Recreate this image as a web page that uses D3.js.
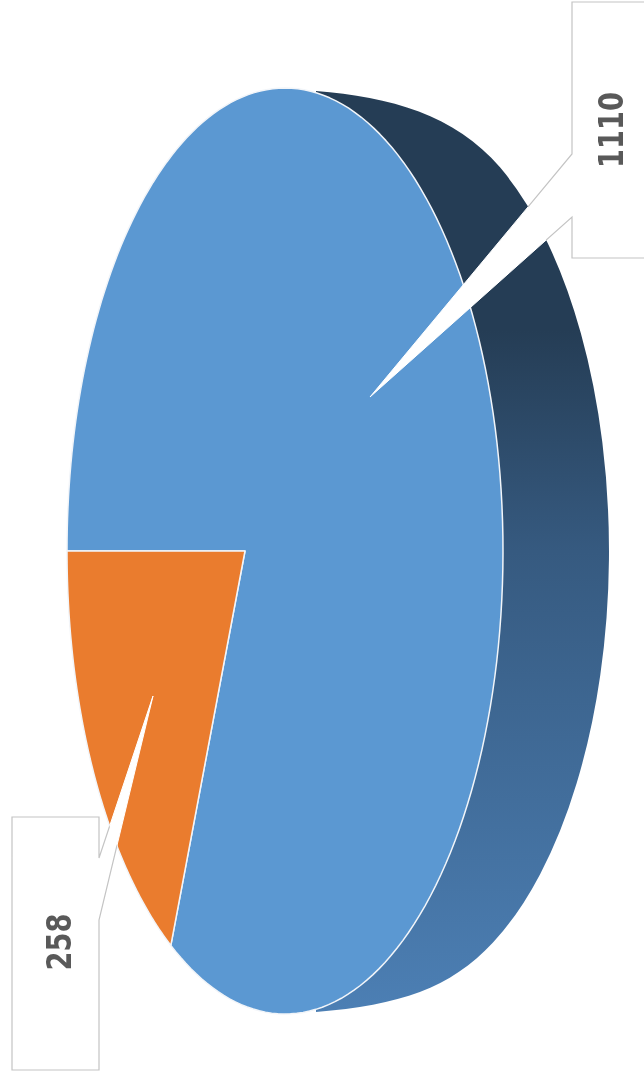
<!DOCTYPE html>
<html>
<head>
<meta charset="utf-8">
<script src="https://cdn.jsdelivr.net/npm/d3@7"></script>
<style>
html,body{margin:0;padding:0;background:#fff;overflow:hidden}
svg{display:block;filter:blur(0.45px)}
text{font-family:"DejaVu Sans",sans-serif;font-weight:bold;fill:#595959}
</style>
</head>
<body>
<svg id="c" width="644" height="1077"></svg>
<script>
const categories = ["A", "B"];
const values = [1110, 258];
const labels = ["1110", "258"];
const colors = ["#5b98d2", "#ea7c2e"];

const W = 644, H = 1077;
const svg = d3.select("#c");

// Pie face: a circle seen in perspective, so its apex sits left of the ellipse centre.
const face = {cx: 285, cy: 551, rx: 218, ry: 463, apexX: 245};
const a = (face.apexX - face.cx) / face.rx;
const xScale = d3.scaleLinear().domain([-1, 1]).range([face.cx - face.rx, face.cx + face.rx]);
const yScale = d3.scaleLinear().domain([-1, 1]).range([face.cy - face.ry, face.cy + face.ry]);
function project(theta, r) {
  // theta clockwise from 12 o'clock, as d3.pie gives it
  const u = r * Math.sin(theta), v = -r * Math.cos(theta);
  const d = 1 + a * u;
  return [xScale((u + a) / d), yScale(v * Math.sqrt(1 - a * a) / d)];
}

const pie = d3.pie().value(d => d).sort(null)
  .startAngle(1.5 * Math.PI).endAngle(3.5 * Math.PI);
const arcs = pie(values);

// Side wall of the extruded pie
const defs = svg.append("defs");
const grad = defs.append("linearGradient").attr("id", "side")
  .attr("gradientUnits", "userSpaceOnUse").attr("x1", 0).attr("x2", 0).attr("y1", 91).attr("y2", 1012);
[[0, "#253d55"], [0.26, "#253d55"], [0.5, "#365a80"], [1, "#4c7fb4"]]
  .forEach(([o, c]) => grad.append("stop").attr("offset", o).attr("stop-color", c));

const back = {cx: 391, cy: 551, rx: 218, ry: 443};
const ax = xv => back.cy - back.ry * Math.sqrt(1 - ((xv - back.cx) / back.rx) ** 2);
const bx = xv => back.cy + back.ry * Math.sqrt(1 - ((xv - back.cx) / back.rx) ** 2);
const sideD =
  `M316,91 C390,97 455,${ax(500) - 52.8} 500,${ax(500)} ` +
  `A${back.rx},${back.ry} 0 0 1 493,${bx(493)} ` +
  `C450,${bx(493) + 46.2} 400,1005 316,1012 Z`;
svg.append("path").attr("fill", "url(#side)").attr("d", sideD);

// Slices
const line = d3.line();
const faceOutline = line(d3.range(0, 360).map(k => project(k * Math.PI / 180, 1))) + "Z";
arcs.forEach((d, i) => {
  const steps = d3.range(0, 181).map(k => d.startAngle + (d.endAngle - d.startAngle) * k / 180);
  const pts = [project(0, 0)].concat(steps.map(t => project(t, 1)));
  svg.append("path")
    .attr("d", line(pts) + "Z")
    .attr("fill", colors[i])
    .attr("stroke", "#f2f5f9")
    .attr("stroke-width", 1.5)
    .attr("stroke-linejoin", "round");
});

// The callout outline only shows off the pie; over the pie the pointer is plain white.
const mask = defs.append("mask").attr("id", "offPie").attr("maskUnits", "userSpaceOnUse")
  .attr("x", 0).attr("y", 0).attr("width", W).attr("height", H);
mask.append("rect").attr("width", W).attr("height", H).attr("fill", "#fff");
mask.append("path").attr("d", sideD).attr("fill", "#000");
mask.append("path").attr("d", faceOutline).attr("fill", "#000");

// Data-label callouts
const callouts = [
  {pts: [[572,2],[660,2],[660,258],[572,258],[572,217],[370,397],[572,154]], lx: 611, ly: 130},
  {pts: [[12,817],[99,817],[99,858],[153,696],[99,920],[99,1070],[12,1070]], lx: 59, ly: 942}
];
callouts.forEach((c, i) => {
  svg.append("path").attr("d", line(c.pts) + "Z")
    .attr("fill", "#fff").attr("stroke", "#fff").attr("stroke-width", 1);
  svg.append("path").attr("d", line(c.pts) + "Z")
    .attr("fill", "none").attr("stroke", "#c4c4c4").attr("stroke-width", 1.2)
    .attr("mask", "url(#offPie)");
  svg.append("text")
    .attr("transform", `translate(${c.lx},${c.ly}) rotate(-90)`)
    .attr("text-anchor", "middle").attr("dominant-baseline", "central")
    .attr("font-size", 33)
    .attr("textLength", labels[i].length * 19)
    .attr("lengthAdjust", "spacingAndGlyphs")
    .text(labels[i]);
});
</script>
</body>
</html>
